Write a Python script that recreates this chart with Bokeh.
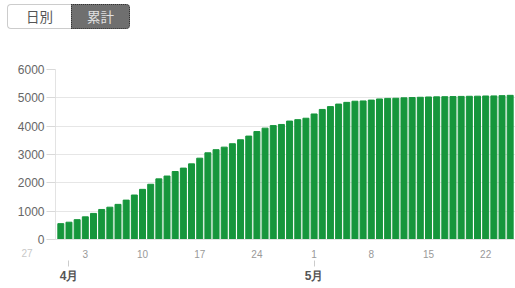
from bokeh.plotting import figure
from bokeh.models import LinearAxis, FixedTicker, Div, Range1d
from bokeh.layouts import column
from bokeh.embed import file_html
from bokeh.resources import INLINE

# Cumulative counts, one per day from Mar 31 (index 0) to May 25 (index 55)
day_index = list(range(56))
cumulative = [560, 610, 700, 800, 920, 1060, 1140, 1240, 1390, 1570,
              1770, 1950, 2140, 2240, 2400, 2520, 2670, 2870, 3060, 3170,
              3260, 3380, 3520, 3650, 3810, 3930, 4020, 4060, 4180, 4230,
              4280, 4430, 4590, 4690, 4780, 4840, 4880, 4890, 4920, 4960,
              4980, 4985, 5000, 5010, 5020, 5030, 5035, 5040, 5045, 5050,
              5055, 5058, 5065, 5068, 5077, 5088]

# Day-of-month tick labels (index relative to Mar 31)
day_ticks = [3, 10, 17, 24, 31, 38, 45, 52]
day_labels = ["3", "10", "17", "24", "1", "8", "15", "22"]
prev_label = "27"
month_ticks = [1, 31]
month_labels = ["4月", "5月"]
y_ticks = [0, 1000, 2000, 3000, 4000, 5000, 6000]
button_labels = ["日別", "累計"]

p = figure(width=515, height=252,
           x_range=Range1d(-0.65, 55.65), y_range=Range1d(0, 6000),
           output_backend="svg", toolbar_location=None,
           min_border_left=55, min_border_right=0,
           min_border_top=33, min_border_bottom=49, margin=0)
p.outline_line_color = None
p.background_fill_color = "white"
p.border_fill_color = "white"

p.vbar(x=day_index, top=cumulative, width=0.73, color="#16963c")

p.xgrid.grid_line_color = None
p.ygrid.grid_line_color = "#e6e6e6"
p.ygrid.ticker = FixedTicker(ticks=y_ticks)

ya = p.yaxis[0]
ya.ticker = FixedTicker(ticks=y_ticks)
ya.major_tick_in = 0
ya.major_tick_out = 9
ya.minor_tick_line_color = None
ya.major_tick_line_color = "#d9d9d9"
ya.axis_line_color = "#e3e3e3"
ya.major_label_standoff = 2
ya.major_label_text_font = "Liberation Sans"
ya.major_label_text_font_size = "12px"
ya.major_label_text_color = "#666666"

xa = p.xaxis[0]
xa.ticker = FixedTicker(ticks=day_ticks)
xa.major_label_overrides = {t: l for t, l in zip(day_ticks, day_labels)}
xa.major_tick_in = 0
xa.major_tick_out = 0
xa.minor_tick_line_color = None
xa.axis_line_color = "#e3e3e3"
xa.major_label_standoff = 10
xa.major_label_text_font = "Liberation Sans"
xa.major_label_text_font_size = "10px"
xa.major_label_text_color = "#999999"

ma = LinearAxis(ticker=FixedTicker(ticks=month_ticks),
                major_label_overrides={t: l for t, l in zip(month_ticks, month_labels)})
ma.axis_line_color = None
ma.major_tick_in = 0
ma.major_tick_out = 6
ma.major_tick_line_color = "#cccccc"
ma.minor_tick_line_color = None
ma.major_label_standoff = 2
ma.major_label_text_font = "Liberation Sans"
ma.major_label_text_font_size = "12px"
ma.major_label_text_font_style = "bold"
ma.major_label_text_color = "#555555"
p.add_layout(ma, "below")

btn_html = (
    '<div style="display:flex;position:relative;top:4px;left:7px;'
    'font-family:\'Noto Sans CJK JP\';font-size:13.5px;">'
    '<div style="width:64px;height:25px;border:1px solid #cccccc;border-right:none;'
    'border-radius:4px 0 0 4px;background:#ffffff;color:#555555;display:flex;'
    'align-items:center;justify-content:center;">%s</div>'
    '<div style="width:59px;height:25px;border:1px dotted #333333;'
    'border-radius:0 4px 4px 0;background:#6f6f6f;color:#e0e0e0;display:flex;'
    'align-items:center;justify-content:center;">%s</div></div>'
) % (button_labels[0], button_labels[1])
div = Div(text=btn_html, width=140, height=36, margin=0)

# previous-month day label that sits left of the plot frame
prev_div = Div(text=prev_label, width=20, height=12, margin=(-40, 0, 0, 17),
               styles={"font-family": "Liberation Sans", "font-size": "10px",
                       "color": "#c8c8c8", "text-align": "center",
                       "line-height": "12px"})

layout = column(div, p, prev_div, spacing=0, margin=0)
open("out.html", "w").write(file_html(layout, INLINE))
